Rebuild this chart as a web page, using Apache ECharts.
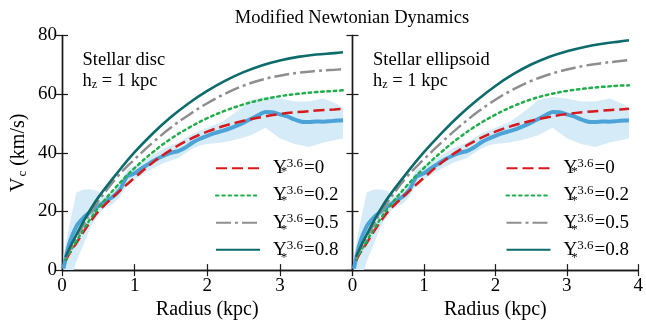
<!DOCTYPE html>
<html><head><meta charset="utf-8">
<script src="https://cdn.jsdelivr.net/npm/echarts@6/dist/echarts.min.js"></script>
<style>html,body{margin:0;padding:0;background:#fff}#c{width:646px;height:325px}</style>
</head><body><div id="c"></div>
<script>
// ---------- data ----------
const radius = [0.05,0.1,0.2,0.3,0.4,0.5,0.75,1,1.25,1.5,1.75,2,2.25,2.5,2.75,3,3.25,3.5,3.75,3.87];
const discU0  = [3.2,5.5,9.3,13.2,16.8,20,26,31.5,36.7,41,44.5,47.2,49.3,50.9,52.2,53.2,53.9,54.4,54.8,55];
const discU02 = [3.6,5.8,10,14,17.8,21.2,28.5,34.8,40.2,44.8,48.6,51.8,54.4,56.5,58.1,59.3,60.1,60.7,61.1,61.3];
const discU05 = [4,6.6,11.2,15.6,19.8,23.5,31.5,37.8,43.5,48.6,53,56.9,60.2,62.9,64.9,66.3,67.3,67.9,68.3,68.5];
const discU08 = [4.5,7.3,12.2,16.8,21,24.8,32.8,40.2,46.6,52.2,57,61.1,64.6,67.5,69.8,71.5,72.7,73.5,74,74.3];
const ellU0   = [3.2,5.5,9.3,13.2,16.8,20,26,31.5,36.7,41,44.5,47.2,49.3,50.9,52.2,53.2,53.9,54.4,54.8,55];
const ellU02  = [3.6,5.8,10,14,17.8,21.2,28.5,34.8,40.4,45.3,49.5,53,55.9,58.2,59.9,61.1,61.9,62.5,62.9,63];
const ellU05  = [4,6.6,11.2,15.6,19.8,23.5,31.5,37.8,43.6,49,53.9,58.1,61.6,64.5,66.7,68.4,69.7,70.6,71.3,71.6];
const ellU08  = [4.5,7.3,12.2,16.8,21,24.8,32.8,40.2,46.8,52.8,58.1,62.8,66.8,70.1,72.7,74.6,76.1,77.2,78,78.4];

const obsR = [0.02,0.1,0.2,0.3,0.4,0.5,0.6,0.7,0.8,0.85,0.9,1.0,1.1,1.2,1.3,1.4,1.5,1.6,1.7,1.8,1.9,2.0,2.1,2.2,2.3,2.4,2.5,2.6,2.7,2.8,2.9,3.0,3.1,3.2,3.3,3.4,3.5,3.6,3.7,3.8,3.87];
const obsV = [0.5,9,15,18,20,21.8,23.5,25,27.5,30,32,33,34.8,36.3,37.8,39,40,40.6,41.8,43.5,44.8,45.8,46.7,47.4,48.2,49.2,50.3,51.5,52.8,53.9,53.8,53.1,52.4,51.4,50.6,50.5,50.7,50.6,50.8,51,51.1];

const bandR    = [0.02,0.1,0.16,0.2,0.3,0.4,0.5,0.55,0.6,0.7,0.8,0.9,1.0,1.2,1.4,1.6,1.8,1.9,2.0,2.2,2.4,2.6,2.8,3.0,3.2,3.4,3.6,3.8,3.87];
const bandLow  = [0,0,0,3,9,15,19,20.5,21.5,22.5,25,29.5,31,34,36.5,38.2,41.5,42.5,43,43.5,44.5,46,48.5,45,43,42,43.5,44.5,45];
const bandHigh = [5,15,22,26.5,27.5,27.5,27,24.5,25.5,27,30,34.5,35.5,38.5,41.5,43.5,46.5,47.5,48.5,50.5,54,58,59,58.5,57.5,57.5,58.5,56.5,55];

const upsilonValues = ['0','0.2','0.5','0.8'];
const seriesNames = ['u0','u02','u05','u08'];
const xTicks = [0,1,2,3,4];
const yTicks = [0,20,40,60,80];
const titleText = 'Modified Newtonian Dynamics';
const panelTitles = ['Stellar disc','Stellar ellipsoid'];

// ---------- style ----------
const FONT = "'Liberation Serif','Times New Roman',serif";
const AX = '#1a1a1a';
const colors = ['#d7191c','#1fae4a','#8e8e8e','#0d6b6b'];
const dashes = [[11,5],[2.5,3.8],[15,4,3,4],'solid'];
const blueLine = '#4ba3d8', bandFill = '#d5ebf7';

const zip = (a,b) => a.map((v,i)=>[v,b[i]]);

const grids = [
  {left:62, top:35.5, width:290.5, height:240.5},
  {left:352.5, top:35.5, width:289.5, height:240.5}
];

function xAxes(g, labels, hideMax){
  const base = {gridIndex:g, type:'value', min:xTicks[0], max:xTicks[xTicks.length-1], interval:1,
    splitLine:{show:false},
    axisLine:{show:true, lineStyle:{color:AX, width:1.4}},
    axisTick:{show:true, inside:true, length:6, lineStyle:{color:AX, width:1.2}}};
  return [
    Object.assign({}, base, {position:'bottom',
      axisLabel:{show:labels, fontFamily:FONT, fontSize:19, color:'#000', margin:6, showMaxLabel: !hideMax},
      name:'Radius (kpc)', nameLocation:'middle', nameGap:26,
      nameTextStyle:{fontFamily:FONT, fontSize:20, color:'#000'}}),
    Object.assign({}, base, {position:'top', axisLabel:{show:false}})
  ];
}
function yAxes(g, labels){
  const base = {gridIndex:g, type:'value', min:yTicks[0], max:yTicks[yTicks.length-1], interval:20,
    splitLine:{show:false},
    axisLine:{show:true, lineStyle:{color:AX, width:1.4}},
    axisTick:{show:true, inside:true, length:6, lineStyle:{color:AX, width:1.2}}};
  const left = Object.assign({}, base, {position:'left',
    axisLabel:{show:labels, fontFamily:FONT, fontSize:19, color:'#000', margin:5}});
  if (labels) {
    left.name = 'V{c|c} (km/s)';
    left.nameLocation = 'middle';
    left.nameGap = 33;
    left.nameTextStyle = {fontFamily:FONT, fontSize:20, color:'#000',
      rich:{c:{fontFamily:FONT, fontSize:13, verticalAlign:'bottom', lineHeight:14, padding:[0,0,0,1]}}};
  }
  return [left, Object.assign({}, base, {position:'right', axisLabel:{show:false}})];
}

const xAxis = [...xAxes(0,true,true), ...xAxes(1,true,false)];
const yAxis = [...yAxes(0,true), ...yAxes(1,false)];

function bandRender(params, api){
  if (params.dataIndex !== 0) return null;
  const up = bandR.map((r,i)=>api.coord([r, bandHigh[i]]));
  const lo = bandR.map((r,i)=>api.coord([r, bandLow[i]])).reverse();
  return {type:'polygon', shape:{points: up.concat(lo)}, style:{fill:bandFill, stroke:null}};
}

function panelSeries(g, models){
  const xi = g*2, yi = g*2;
  const s = [];
  s.push({type:'custom', xAxisIndex:xi, yAxisIndex:yi, renderItem:bandRender, silent:true,
    data: bandR.map((r,i)=>[r, bandLow[i], bandHigh[i]]), encode:{x:0, y:[1,2]}, z:1});
  s.push({type:'line', xAxisIndex:xi, yAxisIndex:yi, data:zip(obsR,obsV), symbol:'none', silent:true,
    smooth:0.2, lineStyle:{color:blueLine, width:4}, z:2});
  models.forEach((arr,k)=>{
    s.push({type:'line', name:seriesNames[k], xAxisIndex:xi, yAxisIndex:yi, data:zip(radius,arr),
      symbol:'none', smooth:0.4, color:colors[k],
      lineStyle:{color:colors[k], width:k===3?2.6:2.5, type:dashes[k], cap:k===1?'round':'butt'}, z:3+k});
  });
  return s;
}

const series = [...panelSeries(0,[discU0,discU02,discU05,discU08]), ...panelSeries(1,[ellU0,ellU02,ellU05,ellU08])];

const legTop = 152.3, rowStep = 28.67;
function legend(left){
  return {orient:'vertical', left:left, top:legTop, itemWidth:44, itemHeight:14, itemGap:rowStep-22,
    data:seriesNames, selectedMode:false,
    itemStyle:{opacity:0, color:'rgba(0,0,0,0)', borderWidth:0},
    formatter: n => '{y|Υ}{s|3.6}{e|=' + upsilonValues[seriesNames.indexOf(n)] + '}',
    textStyle:{fontFamily:FONT, color:'#000',
      rich:{
        y:{fontFamily:FONT, fontSize:19, lineHeight:22, padding:[0,0,0,8], verticalAlign:'middle'},
        s:{fontFamily:FONT, fontSize:13, lineHeight:12, verticalAlign:'top', padding:[0,1,0,0]},
        e:{fontFamily:FONT, fontSize:19, lineHeight:22, verticalAlign:'middle'}
      }}};
}

const graphic = [
  {type:'text', x:352, y:18, style:{text:titleText, fontFamily:FONT, fontSize:18.5, fill:'#000', align:'center', verticalAlign:'middle'}},
];
[82.5, 373].forEach((x,i)=>{
  graphic.push({type:'text', x:x, y:60, style:{text:panelTitles[i], fontFamily:FONT, fontSize:18.5, fill:'#000', align:'left', verticalAlign:'middle'}});
  graphic.push({type:'text', x:x, y:81, style:{text:'{a|h}{b|z}{a| = 1 kpc}', fill:'#000', align:'left', verticalAlign:'middle',
    rich:{a:{fontFamily:FONT, fontSize:18.5, lineHeight:20, verticalAlign:'bottom'}, b:{fontFamily:FONT, fontSize:12, lineHeight:14, verticalAlign:'bottom'}}}});
});
[284, 574.5].forEach(x=>{
  upsilonValues.forEach((v,k)=>{
    graphic.push({type:'text', x:x, y:legTop+11+k*rowStep+8.5, style:{text:'*', fontFamily:FONT, fontSize:13, fill:'#000', align:'center', verticalAlign:'middle'}});
  });
});

const chart = echarts.init(document.getElementById('c'), null, {renderer:'canvas'});
chart.setOption({
  animation:false,
  backgroundColor:'#fff',
  grid:grids,
  xAxis:xAxis,
  yAxis:yAxis,
  legend:[legend(210), legend(500.5)],
  series:series,
  graphic:graphic
});
</script>
</body></html>
